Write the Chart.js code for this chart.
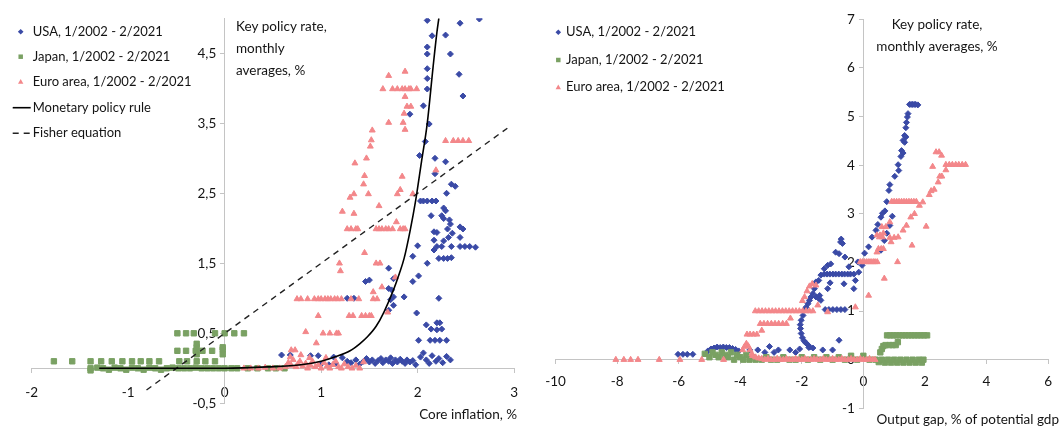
<!DOCTYPE html>
<html>
<head>
<meta charset="utf-8">
<script src="https://cdn.jsdelivr.net/npm/chart.js@4/dist/chart.umd.min.js"></script>
<style>
  html, body { margin: 0; padding: 0; background: #fff; }
  #wrap { position: relative; width: 1062px; height: 427px; overflow: hidden; }
  .panel { position: absolute; top: 0; height: 427px; }
  #p1 { left: 0; width: 530px; }
  #p2 { left: 530px; width: 532px; }
</style>
</head>
<body>
<div id="wrap">
  <div class="panel" id="p1"><canvas id="c1"></canvas></div>
  <div class="panel" id="p2"><canvas id="c2"></canvas></div>
</div>
<script>
// ---------- labels ----------
const seriesNames = ['USA, 1/2002 - 2/2021', 'Japan, 1/2002 - 2/2021', 'Euro area, 1/2002 - 2/2021'];
const lineNames = ['Monetary policy rule', 'Fisher equation'];
const leftTitle = ['Key policy rate,', 'monthly', 'averages, %'];
const rightTitle = ['Key policy rate,', 'monthly averages, %'];
const leftXTitle = 'Core inflation, %';
const rightXTitle = 'Output gap, % of potential gdp';

// ---------- tick values ----------
const inflationTicks = [-2, -1, 0, 1, 2, 3];
const rateTicksLeft = [-0.5, 0.5, 1.5, 2.5, 3.5, 4.5];
const gapTicks = [-10, -8, -6, -4, -2, 0, 2, 4, 6];
const rateTicksRight = [-1, 0, 1, 2, 3, 4, 5, 6, 7];

// ---------- left panel: [core inflation %, key policy rate %] ----------
const usaInflation = [
  [2.10,4.97],[2.44,4.93],[2.64,4.99],[2.15,4.75],[2.29,4.76],[2.10,4.59],[2.10,4.49],[2.34,4.49],
  [2.10,4.28],[2.10,4.14],[2.43,4.20],[2.10,3.99],[2.47,3.89],[2.06,3.75],[1.92,3.63],[2.12,3.49],
  [2.08,3.24],[2.02,3.04],[2.18,3.00],[2.29,2.95],[2.18,2.78],[2.35,2.63],[2.39,2.60],[2.30,2.50],
  [2.03,2.39],[2.06,2.39],[2.10,2.39],[2.15,2.39],[2.19,2.39],[2.14,2.18],[2.27,2.29],[2.29,2.25],
  [2.25,2.18],[2.27,2.14],[2.33,2.12],[2.34,2.06],[2.44,2.02],[2.47,1.99],[2.17,1.95],[2.20,1.94],
  [2.31,1.99],[2.36,1.93],[2.32,1.87],[2.44,1.87],[2.17,1.83],[2.27,1.82],[2.20,1.74],[2.25,1.74],
  [2.35,1.74],[2.00,1.75],[2.44,1.74],[2.49,1.74],[2.54,1.74],[2.60,1.73],[2.17,1.69],[2.22,1.57],
  [2.27,1.57],[2.31,1.57],[2.35,1.58],[2.10,1.50],[1.95,1.60],[1.70,1.43],[2.01,1.32],[1.95,1.24],
  [1.46,1.24],[1.50,1.26],[1.75,1.28],[1.70,1.14],[1.73,1.12],[1.75,1.02],[1.72,0.98],[1.86,1.02],
  [1.75,0.90],[1.70,0.83],[1.99,0.79],[2.22,1.00],[2.20,0.65],[2.23,0.65],[2.09,0.62],[2.14,0.56],
  [2.20,0.55],[2.25,0.56],[2.01,0.40],[2.13,0.40],[2.18,0.40],[2.23,0.40],[2.30,0.40],[1.27,1.00],
  [1.34,1.00],
  [0.59,0.19],[0.68,0.19],[0.89,0.18],[0.97,0.18],[1.13,0.16],[1.22,0.15],[1.27,0.10],[1.31,0.08],
  [1.36,0.12],[1.40,0.06],[1.44,0.10],[1.47,0.14],[1.50,0.09],[1.53,0.12],[1.56,0.07],[1.59,0.11],
  [1.62,0.14],[1.64,0.08],[1.67,0.12],[1.70,0.10],[1.72,0.15],[1.74,0.07],[1.77,0.12],[1.79,0.09],
  [1.82,0.13],[1.84,0.10],[1.87,0.07],[1.89,0.12],[1.92,0.09],[1.95,0.11],[1.98,0.05],[2.03,0.16],
  [2.06,0.22],[2.09,0.12],[2.12,0.07],[2.15,0.18],[2.19,0.10],[2.22,0.14],[2.26,0.08],[2.30,0.17],
  [2.34,0.12],[1.00,0.06],[1.08,0.05],[1.15,0.07]
];
const japanInflation = [
  [-1.77,0.10],[-1.58,0.10],[-1.39,0.10],[-1.28,0.10],[-1.17,0.10],[-1.06,0.10],[-0.96,0.10],[-0.87,0.10],
  [-0.78,0.10],[-0.68,0.10],[-0.47,0.10],[-0.39,0.10],[-0.29,0.10],[-0.20,0.10],[-0.10,0.10],
  [-1.39,0.00],[-1.39,-0.03],[-1.32,0.01],[-1.26,0.00],[-1.20,-0.02],[-1.14,0.01],[-1.08,0.00],[-1.02,-0.02],
  [-0.96,0.01],[-0.90,0.00],[-0.84,-0.02],[-0.78,0.01],[-0.72,0.00],[-0.66,-0.02],[-0.60,0.00],[-0.54,0.01],
  [-0.48,0.00],[-0.42,0.00],[-0.36,0.00],[-0.30,0.01],[-0.24,0.00],[-0.18,0.00],[-0.12,0.00],[-0.06,0.00],
  [0.00,0.00],[0.07,0.00],[0.13,0.00],[0.24,0.00],[0.34,0.00],[0.45,0.00],[0.53,0.00],[0.62,0.00],
  [-0.49,0.25],[-0.40,0.25],[-0.30,0.25],[-0.23,0.25],[-0.13,0.25],
  [-0.29,0.20],[-0.29,0.30],[-0.29,0.35],[-0.02,0.20],[-0.02,0.27],[-0.02,0.30],
  [-0.49,0.50],[-0.40,0.50],[-0.32,0.50],[-0.10,0.50],[0.00,0.50],[0.10,0.50],[0.20,0.50]
];
const euroInflation = [
  [1.87,4.24],[1.70,4.18],[1.64,3.99],[1.74,3.99],[1.79,3.99],[1.84,3.99],[1.87,3.99],[1.91,3.99],
  [1.93,3.99],[1.99,3.99],[1.87,3.88],[1.89,3.74],[1.93,3.74],[1.86,3.64],[1.70,3.51],[1.85,3.51],
  [1.87,3.41],[1.53,3.40],[1.52,3.26],[1.51,3.17],[1.47,3.00],[1.35,2.93],[2.29,3.25],[2.37,3.25],
  [2.42,3.25],[2.47,3.25],[2.53,3.25],[2.19,2.83],[1.45,2.75],[1.84,2.74],[1.44,2.63],[1.82,2.55],
  [1.34,2.49],[1.30,2.44],[1.49,2.49],[1.79,2.49],[1.95,2.49],[1.60,2.32],[1.22,2.24],[1.34,2.21],
  [1.78,2.09],
  [1.27,1.99],[1.31,1.99],[1.36,1.99],[1.38,1.99],[1.57,1.99],[1.60,1.99],[1.63,1.99],[1.67,1.99],
  [1.70,1.99],[1.74,1.99],[1.82,1.99],[1.85,1.99],[1.87,1.99],
  [1.45,1.65],[1.19,1.50],[1.20,1.39],[1.61,1.50],[1.57,1.50],[1.77,1.30],[1.63,1.16],[1.54,1.09],
  [0.75,0.99],[0.79,0.99],[0.86,0.99],[0.93,0.99],[0.97,0.99],[1.00,0.99],[1.04,0.99],[1.07,0.99],
  [1.10,0.99],[1.14,0.99],[1.17,0.99],[1.21,0.99],[1.31,0.99],[1.39,0.99],[1.54,0.99],[1.58,0.99],
  [0.97,0.75],[1.29,0.75],[1.33,0.75],[1.42,0.75],[1.46,0.75],[1.50,0.75],[1.52,0.75],
  [0.84,0.52],[1.02,0.50],[1.09,0.50],[1.16,0.50],[1.18,0.50],[0.95,0.36],[0.69,0.26],[0.73,0.26],
  [0.79,0.19],[1.69,0.80],
  [0.20,0.00],[0.27,0.00],[0.35,0.00],[0.42,0.01],[0.50,0.00],[0.57,0.00],[0.63,0.02],[0.66,0.08],
  [0.69,0.04],[0.71,0.12],[0.74,0.02],[0.76,0.06],[0.78,0.10],[0.81,0.03],[0.84,0.07],[0.86,0.00],
  [0.89,0.04],[0.91,0.10],[0.94,0.02],[0.97,0.05],[1.00,0.00],[1.03,0.08],[1.06,0.03],[1.09,0.00],
  [1.12,0.05],[1.15,0.10],[1.18,0.02],[1.21,0.00],[1.24,0.06],[1.28,0.02],[1.32,0.00],[1.36,0.04],
  [1.40,0.00],[1.44,0.09],[0.68,0.16],[0.88,0.15],[1.05,0.15]
];
const policyRule = [
  [-1.30,0.00],[0.00,0.00],[0.45,0.02],[0.79,0.05],[1.00,0.10],[1.14,0.16],[1.30,0.25],[1.40,0.35],
  [1.48,0.45],[1.57,0.60],[1.65,0.80],[1.75,1.12],[1.81,1.35],[1.86,1.57],[1.92,1.95],[1.98,2.40],
  [2.04,2.95],[2.10,3.50],[2.16,4.30],[2.20,4.80],[2.22,5.00]
];
const fisherLine = [[-0.81,-0.31],[2.93,3.43]];

// ---------- right panel: [output gap %, key policy rate %] ----------
const usaGap = [
  [1.50,5.25],[1.55,5.25],[1.60,5.25],[1.65,5.25],[1.70,5.25],[1.77,5.24],[1.45,5.06],[1.43,4.99],
  [1.40,4.88],[1.38,4.77],[1.34,4.61],[1.38,4.58],[1.29,4.51],[1.34,4.47],[1.24,4.30],[1.29,4.25],
  [1.22,4.18],[1.13,4.01],[1.15,3.89],[1.02,3.77],[0.86,3.60],[0.83,3.48],[0.76,3.25],[0.70,3.06],
  [0.62,3.01],[0.57,2.93],[0.94,2.95],[0.47,2.78],[0.86,2.76],[0.41,2.66],[0.76,2.60],[0.28,2.52],
  [0.68,2.45],[0.17,2.32],[0.57,2.25],[0.04,2.19],[-0.04,1.94],[-0.18,2.01],[-0.15,1.80],[-0.26,1.63],
  [-0.31,1.46],
  [-0.74,2.42],[-0.68,2.39],[-0.72,2.48],[-0.90,2.21],[-0.79,2.18],[-0.60,2.11],[-1.06,1.97],[-1.16,1.94],
  [-1.27,1.87],[-1.38,1.74],[-1.45,1.63],[-0.47,1.91],
  [-1.27,1.76],[-1.18,1.76],[-1.09,1.76],[-0.99,1.76],[-0.90,1.76],[-0.80,1.76],[-0.70,1.76],[-0.61,1.76],
  [-0.51,1.76],[-0.42,1.76],[-0.31,1.76],
  [-1.08,1.58],[-0.63,1.56],[-1.54,1.60],[-1.16,1.46],[-1.54,1.29],[-1.45,1.26],[-1.38,1.22],[-1.42,1.32],
  [-1.59,1.46],[-1.64,1.36],[-1.70,1.29],[-1.75,1.22],[-1.80,1.15],[-1.86,1.08],[-1.91,1.02],[-1.96,0.91],
  [-2.02,0.81],[-2.05,0.72],[-2.04,0.64],[-2.02,0.54],[-1.98,0.45],[-1.93,0.39],[-1.88,0.35],[-1.81,0.31],
  [-1.74,0.26],
  [-1.24,1.03],[-1.12,1.03],[-0.99,1.03],[-0.86,1.03],[-0.73,1.03],[-0.60,1.03],[-0.79,0.40],
  [-6.02,0.11],[-5.86,0.11],[-5.72,0.11],[-5.54,0.11],[-5.05,0.18],[-4.95,0.22],[-4.85,0.24],[-4.75,0.26],
  [-4.65,0.25],[-4.55,0.26],[-4.45,0.25],[-4.35,0.25],[-4.25,0.23],[-4.15,0.21],[-4.05,0.18],[-3.69,0.20],
  [-3.43,0.20],[-3.05,0.27],[-2.76,0.20],[-2.39,0.20],[-2.07,0.22],[-1.77,0.25],[-1.64,0.24],[-1.32,0.20],
  [-1.00,0.20],[-2.20,0.15],[-2.90,0.15],[-3.20,0.15]
];
const japanGap = [
  [-5.15,0.12],[-5.00,0.05],[-4.90,0.15],[-4.80,0.10],[-4.70,0.05],[-4.60,0.15],[-4.50,0.10],[-4.40,0.05],
  [-4.30,0.15],[-4.20,0.00],[-4.10,0.10],[-4.00,0.05],[-3.90,0.00],[-3.80,0.10],[-3.70,0.00],[-3.60,0.05],
  [-3.50,0.00],[-3.30,0.00],[-3.15,0.05],[-3.00,0.00],[-2.80,0.00],[-2.60,0.05],[-2.40,0.00],[-2.20,0.00],
  [-2.00,0.05],[-1.80,0.00],[-1.60,0.05],[-1.40,0.00],[-1.20,0.05],[-1.00,0.00],[-0.80,0.05],[-0.60,0.00],
  [-0.40,0.08],[-0.20,0.00],[0.00,0.08],[0.20,0.00],[0.40,0.00],[0.50,-0.05],
  [0.60,0.00],[0.70,-0.06],[0.80,0.00],[0.90,-0.06],[1.00,0.00],[1.10,-0.06],[1.20,0.00],[1.30,-0.06],
  [1.40,0.00],[1.50,-0.06],[1.60,0.00],[1.70,-0.06],[1.80,0.00],[1.90,-0.06],[1.95,0.00],
  [0.77,0.50],[0.87,0.50],[0.97,0.50],[1.07,0.50],[1.17,0.50],[1.27,0.50],[1.37,0.50],[1.47,0.50],
  [1.57,0.50],[1.67,0.50],[1.77,0.50],[1.87,0.50],[1.97,0.50],[2.07,0.50],
  [0.55,0.15],[0.60,0.22],[0.65,0.28],[0.72,0.30],[0.85,0.30],[0.95,0.30],[1.05,0.30],[1.12,0.36]
];
const euroGap = [
  [2.36,4.27],[2.46,4.27],[2.54,4.20],[2.25,3.97],[2.68,4.01],[2.79,4.01],[2.89,4.01],[3.00,4.01],
  [3.10,4.01],[3.21,4.01],[3.32,4.01],[2.68,3.90],[2.48,3.77],[2.55,3.77],[2.43,3.65],[2.30,3.50],
  [2.20,3.47],[2.14,3.39],[1.93,3.24],[1.82,3.17],
  [0.92,3.25],[1.00,3.25],[1.08,3.25],[1.16,3.25],[1.24,3.25],[1.32,3.25],[1.40,3.25],[1.48,3.25],
  [1.56,3.25],[1.64,3.25],[1.72,3.25],
  [1.66,3.00],[1.54,2.93],[1.40,2.76],[2.04,2.74],[1.29,2.66],[1.13,2.52],[1.00,2.51],[0.86,2.51],
  [0.86,2.83],[0.73,2.73],[0.60,2.73],[0.62,2.52],[0.52,2.52],[0.44,2.56],[0.54,2.56],[0.65,2.60],
  [0.49,2.28],[0.58,2.28],[0.65,2.28],[0.90,2.42],[1.58,2.35],[0.44,2.21],[1.11,2.01],[0.68,1.67],
  [0.17,1.32],
  [-0.10,2.01],[-0.03,2.01],[0.04,2.01],[0.11,2.01],[0.18,2.01],[0.25,2.01],[0.32,2.01],[0.38,2.01],
  [0.45,2.01],[-0.26,1.08],
  [-1.98,1.21],[-1.91,1.29],[-1.83,1.41],[-1.75,1.51],[-1.66,1.56],[-1.54,1.53],[-1.48,1.12],[-1.16,0.98],
  [-3.51,1.00],[-3.40,1.00],[-3.29,1.00],[-3.18,1.00],[-3.07,1.00],[-2.96,1.00],[-2.85,1.00],[-2.74,1.00],
  [-2.63,1.00],[-2.52,1.00],[-2.41,1.00],[-2.30,1.00],[-2.19,1.00],[-2.08,1.00],[-1.97,1.00],[-1.86,1.00],
  [-1.75,1.00],[-1.64,1.00],
  [-3.35,0.74],[-3.23,0.74],[-3.11,0.74],[-2.99,0.74],[-2.87,0.74],[-2.75,0.74],[-2.62,0.74],[-2.50,0.74],
  [-2.37,0.85],
  [-3.78,0.52],[-3.68,0.52],[-3.57,0.52],[-3.46,0.52],[-3.30,0.60],
  [-3.92,0.20],[-3.86,0.27],[-3.80,0.33],[-3.74,0.28],[-3.68,0.20],[-3.62,0.12],
  [-8.04,0.00],[-7.78,0.00],[-7.56,0.00],[-7.32,0.00],[-6.63,0.00],[-5.96,0.00],[-5.25,0.00],[-4.54,0.00],
  [-3.60,0.08],[-3.50,0.05],[-3.40,0.03],[-3.30,0.02],[-3.20,0.00],[-3.10,0.02],[-3.00,0.00],[-2.90,0.00],
  [-2.80,0.02],[-2.70,0.00],[-2.60,0.00],[-2.50,0.02],[-2.40,0.00],[-2.30,0.00],[-2.20,0.02],[-2.10,0.00],
  [-2.00,0.00],[-1.90,0.02],[-1.80,0.00],[-1.70,0.00],[-1.60,0.02],[-1.50,0.00],[-1.40,0.00],[-1.30,0.02],
  [-1.20,0.00],[-1.10,0.00],[-1.00,0.02],[-0.90,0.00],[-0.80,0.00],[-0.70,0.02],[-0.60,0.00],[-0.50,0.00],
  [-0.40,0.02],[-0.30,0.00],[-0.20,0.00],[-0.10,0.02],[0.00,0.00],[0.10,0.00],[0.20,0.02],[0.30,0.00],
  [0.38,0.00]
];

// ---------- styling ----------
const FONT = 'Lato, "Open Sans", "Noto Sans", sans-serif';
const TEXT = '#141414';
const AXIS = '#c4c4c4';
const USA_COLOR = '#3a4aa6';
const JAPAN_COLOR = '#7aa163';
const EURO_COLOR = '#f3878a';

Chart.defaults.font.family = FONT;
Chart.defaults.font.size = 13.5;
Chart.defaults.color = TEXT;

const toPoints = arr => arr.map(([x, y]) => ({ x, y }));
const decimalComma = v => String(v).replace('.', ',');
const fixedTicks = values => axis => { axis.ticks = values.map(v => ({ value: v })); };
// labels of the vertical axis sit to the left of the line with a small gap
const yLabel = v => decimalComma(v) + '\u2002\u2009';

function scatterSet(label, data, style, color, radius, order) {
  return {
    label, data: toPoints(data), pointStyle: style, pointRadius: radius, pointHoverRadius: radius,
    pointBackgroundColor: color, pointBorderColor: color, pointBorderWidth: 1,
    backgroundColor: color, borderColor: color, showLine: false, order
  };
}

function axisOptions(min, max, position, ticks, padding, format) {
  return {
    type: 'linear', min, max, position,
    afterBuildTicks: fixedTicks(ticks),
    grid: { display: true, drawOnChartArea: false, drawTicks: true, tickLength: 4, color: AXIS, lineWidth: 1 },
    border: { display: true, color: AXIS, width: 1 },
    ticks: { padding, color: TEXT, font: { size: 13.5 }, autoSkip: false, maxRotation: 0, callback: format }
  };
}

// draws the in-plot legend and the axis captions
function drawMarker(ctx, style, r, x, y, color) {
  ctx.fillStyle = color;
  ctx.beginPath();
  if (style === 'rectRot') {
    ctx.moveTo(x, y - r); ctx.lineTo(x + r, y); ctx.lineTo(x, y + r); ctx.lineTo(x - r, y);
  } else if (style === 'rect') {
    ctx.rect(x - r * 0.8, y - r * 0.8, r * 1.6, r * 1.6);
  } else {
    ctx.moveTo(x, y - r); ctx.lineTo(x + r * 0.95, y + r * 0.7); ctx.lineTo(x - r * 0.95, y + r * 0.7);
  }
  ctx.closePath();
  ctx.fill();
}

const panelText = {
  id: 'panelText',
  afterDraw(chart, args, opts) {
    const ctx = chart.ctx;
    ctx.save();
    ctx.textBaseline = 'middle';
    ctx.font = '13px ' + FONT;
    (opts.legend || []).forEach(item => {
      const ds = chart.data.datasets[item.dataset];
      if (ds.showLine) {
        ctx.strokeStyle = ds.borderColor;
        ctx.lineWidth = ds.borderWidth;
        ctx.setLineDash(ds.borderDash || []);
        ctx.beginPath();
        ctx.moveTo(item.lineFrom, item.y);
        ctx.lineTo(item.lineTo, item.y);
        ctx.stroke();
        ctx.setLineDash([]);
      } else {
        drawMarker(ctx, ds.pointStyle, 2.8, item.markerX, item.y, ds.pointBackgroundColor);
      }
      ctx.fillStyle = TEXT;
      ctx.textAlign = 'left';
      ctx.fillText(ds.label, item.textX, item.y);
    });
    ctx.font = '13.5px ' + FONT;
    (opts.texts || []).forEach(t => {
      ctx.fillStyle = TEXT;
      ctx.textAlign = t.align;
      ctx.fillText(t.text, t.x, t.y);
    });
    ctx.restore();
  }
};

// ---------- left panel: core inflation vs policy rate ----------
new Chart(document.getElementById('c1'), {
  type: 'scatter',
  data: {
    datasets: [
      { label: lineNames[0], data: toPoints(policyRule), showLine: true, borderColor: '#000', borderWidth: 1.6,
        pointRadius: 0, pointHoverRadius: 0, cubicInterpolationMode: 'monotone', fill: false, order: 0 },
      { label: lineNames[1], data: toPoints(fisherLine), showLine: true, borderColor: '#222', borderWidth: 1.4,
        borderDash: [6, 5], pointRadius: 0, pointHoverRadius: 0, fill: false, order: 0 },
      scatterSet(seriesNames[2], euroInflation, 'triangle', EURO_COLOR, 3.4, 1),
      scatterSet(seriesNames[1], japanInflation, 'rect', JAPAN_COLOR, 3.8, 2),
      scatterSet(seriesNames[0], usaInflation, 'rectRot', USA_COLOR, 3.0, 3)
    ]
  },
  options: {
    responsive: true, maintainAspectRatio: false, animation: false, devicePixelRatio: 1,
    layout: { padding: { left: 31.7, right: 11.8, top: 18.3, bottom: 23.7 } },
    scales: {
      x: axisOptions(-2, 3, { y: 0 }, inflationTicks, 12, decimalComma),
      y: axisOptions(-0.5, 5, { x: 0 }, rateTicksLeft, 8, yLabel)
    },
    plugins: {
      legend: { display: false },
      tooltip: { enabled: false },
      panelText: {
        legend: [
          { dataset: 4, markerX: 20.7, textX: 32.7, y: 31.7 },
          { dataset: 3, markerX: 20.7, textX: 32.7, y: 56.7 },
          { dataset: 2, markerX: 20.7, textX: 32.7, y: 81.7 },
          { dataset: 0, lineFrom: 12.7, lineTo: 30.7, textX: 32.7, y: 107.7 },
          { dataset: 1, lineFrom: 12.7, lineTo: 30.7, textX: 32.7, y: 133.3 }
        ],
        texts: [
          { text: leftTitle[0], x: 236, y: 26.7, align: 'left' },
          { text: leftTitle[1], x: 236, y: 49.0, align: 'left' },
          { text: leftTitle[2], x: 236, y: 71.0, align: 'left' },
          { text: leftXTitle, x: 517, y: 415, align: 'right' }
        ]
      }
    }
  },
  plugins: [panelText]
});

// ---------- right panel: output gap vs policy rate ----------
new Chart(document.getElementById('c2'), {
  type: 'scatter',
  data: {
    datasets: [
      scatterSet(seriesNames[2], euroGap, 'triangle', EURO_COLOR, 3.4, 1),
      scatterSet(seriesNames[1], japanGap, 'rect', JAPAN_COLOR, 3.8, 2),
      scatterSet(seriesNames[0], usaGap, 'rectRot', USA_COLOR, 3.0, 3)
    ]
  },
  options: {
    responsive: true, maintainAspectRatio: false, animation: false, devicePixelRatio: 1,
    layout: { padding: { left: 25.5, right: 6.5, top: 19.3, bottom: 18.7 } },
    scales: {
      x: axisOptions(-10, 6, { y: 0 }, gapTicks, 10, decimalComma),
      y: axisOptions(-1, 7, { x: 0 }, rateTicksRight, 8, yLabel)
    },
    plugins: {
      legend: { display: false },
      tooltip: { enabled: false },
      panelText: {
        legend: [
          { dataset: 2, markerX: 28.3, textX: 36, y: 32.3 },
          { dataset: 1, markerX: 28.3, textX: 36, y: 60.0 },
          { dataset: 0, markerX: 28.3, textX: 36, y: 87.3 }
        ],
        texts: [
          { text: rightTitle[0], x: 407, y: 25, align: 'center' },
          { text: rightTitle[1], x: 407, y: 46.7, align: 'center' },
          { text: rightXTitle, x: 529, y: 419.5, align: 'right' }
        ]
      }
    }
  },
  plugins: [panelText]
});
</script>
</body>
</html>
